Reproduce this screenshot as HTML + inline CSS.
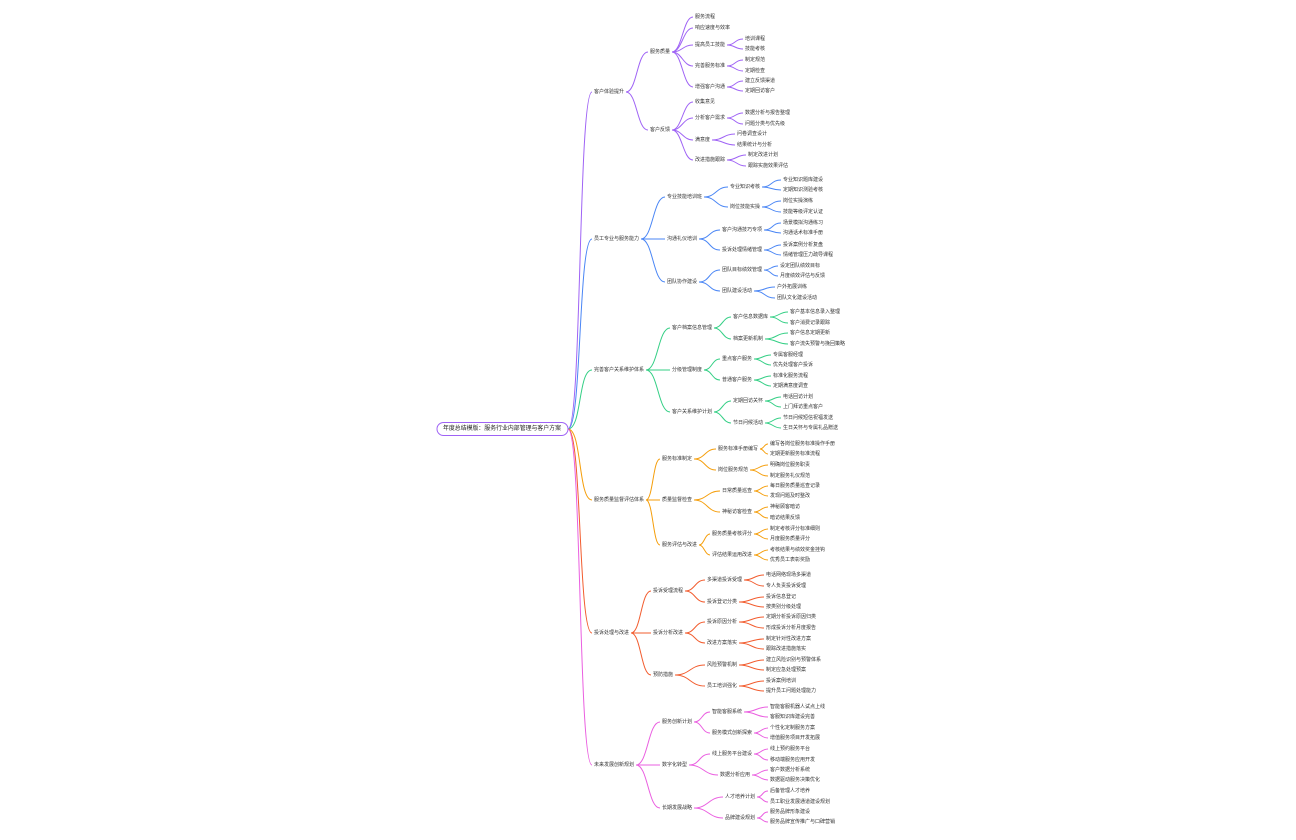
<!DOCTYPE html>
<html><head><meta charset="utf-8"><style>
html,body{margin:0;padding:0;background:#fff;width:1296px;height:840px;overflow:hidden}
svg{display:block}
text{font-family:"Liberation Sans","Noto Sans CJK SC",sans-serif;font-size:5px;fill:#333;dominant-baseline:central}
path{fill:none;stroke-width:1}
.p path{stroke:#9f63f5}.b path{stroke:#4a86f5}.g path{stroke:#34cf85}.o path{stroke:#f59e0b}.r path{stroke:#f25c2e}.m path{stroke:#ea5fe0}
</style></head><body>
<svg width="1296" height="840" viewBox="0 0 1296 840">
<!-- PURPLE -->
<g class="p">
<path d="M568 429 C582 429 578 92 592 92"/>
<path d="M626 92 C637 92 637 52 648 52"/><path d="M626 92 C637 92 637 130 648 130"/>
<path d="M672 52 C682 52 683 17 693 17"/><path d="M672 52 C682 52 683 28 693 28"/><path d="M672 52 C682 52 683 45 693 45"/><path d="M672 52 C682 52 683 66 693 66"/><path d="M672 52 C682 52 683 87 693 87"/>
<path d="M727 45 C735 45 735 39 743 39"/><path d="M727 45 C735 45 735 49 743 49"/>
<path d="M727 66 C735 66 735 60 743 60"/><path d="M727 66 C735 66 735 71 743 71"/>
<path d="M727 87 C735 87 735 81 743 81"/><path d="M727 87 C735 87 735 91 743 91"/>
<path d="M672 130 C682 130 683 102 693 102"/><path d="M672 130 C682 130 683 118 693 118"/><path d="M672 130 C682 130 683 140 693 140"/><path d="M672 130 C682 130 683 160 693 160"/>
<path d="M727 118 C735 118 735 113 743 113"/><path d="M727 118 C735 118 735 124 743 124"/>
<path d="M712 140 C723 140 724 134 735 134"/><path d="M712 140 C723 140 724 145 735 145"/>
<path d="M727 160 C736 160 737 155 746 155"/><path d="M727 160 C736 160 737 166 746 166"/>
</g>
<text x="594" y="92">客户体验提升</text>
<text x="650" y="52">服务质量</text><text x="650" y="130">客户反馈</text>
<text x="695" y="17">服务流程</text><text x="695" y="28">响应速度与效率</text><text x="695" y="45">提高员工技能</text><text x="695" y="66">完善服务标准</text><text x="695" y="87">增强客户沟通</text>
<text x="745" y="39">培训课程</text><text x="745" y="49">技能考核</text><text x="745" y="60">制定规范</text><text x="745" y="71">定期检查</text><text x="745" y="81">建立反馈渠道</text><text x="745" y="91">定期回访客户</text>
<text x="695" y="102">收集意见</text><text x="695" y="118">分析客户需求</text><text x="695" y="140">满意度</text><text x="695" y="160">改进措施跟踪</text>
<text x="745" y="113">数据分析与报告整理</text><text x="745" y="124">问题分类与优先级</text><text x="737" y="134">问卷调查设计</text><text x="737" y="145">结果统计与分析</text><text x="748" y="155">制定改进计划</text><text x="748" y="166">跟踪实施效果评估</text>

<!-- BLUE -->
<g class="b">
<path d="M568 429 C582 429 578 239 592 239"/>
<path d="M641 239 C653 239 653 197 665 197"/><path d="M641 239 L665 239"/><path d="M641 239 C653 239 653 282 665 282"/>
<path d="M704 197 C716 197 716 187 728 187"/><path d="M704 197 C716 197 716 207 728 207"/>
<path d="M699 239 C710 239 709 230 720 230"/><path d="M699 239 C710 239 709 250 720 250"/>
<path d="M699 282 C710 282 709 270 720 270"/><path d="M699 282 C710 282 709 291 720 291"/>
<path d="M762 187 C772 187 771 180 781 180"/><path d="M762 187 C772 187 771 190 781 190"/>
<path d="M762 207 C772 207 771 201 781 201"/><path d="M762 207 C772 207 771 212 781 212"/>
<path d="M764 230 C773 230 772 223 781 223"/><path d="M764 230 C773 230 772 233 781 233"/>
<path d="M764 250 C773 250 772 245 781 245"/><path d="M764 250 C773 250 772 255 781 255"/>
<path d="M764 270 C771 270 771 266 778 266"/><path d="M764 270 C771 270 771 276 778 276"/>
<path d="M754 291 C765 291 764 287 775 287"/><path d="M754 291 C765 291 764 298 775 298"/>
</g>
<text x="594" y="239">员工专业与服务能力</text>
<text x="667" y="197">专业技能培训班</text><text x="667" y="239">沟通礼仪培训</text><text x="667" y="282">团队协作建设</text>
<text x="730" y="187">专业知识考核</text><text x="730" y="207">岗位技能实操</text><text x="722" y="230">客户沟通技巧专项</text><text x="722" y="250">投诉处理情绪管理</text><text x="722" y="270">团队目标绩效管理</text><text x="722" y="291">团队建设活动</text>
<text x="783" y="180">专业知识题库建设</text><text x="783" y="190">定期知识测验考核</text><text x="783" y="201">岗位实操演练</text><text x="783" y="212">技能等级评定认证</text><text x="783" y="223">场景模拟沟通练习</text><text x="783" y="233">沟通话术标准手册</text><text x="783" y="245">投诉案例分析复盘</text><text x="783" y="255">情绪管理压力疏导课程</text><text x="780" y="266">设定团队绩效目标</text><text x="780" y="276">月度绩效评估与反馈</text><text x="777" y="287">户外拓展训练</text><text x="777" y="298">团队文化建设活动</text>

<!-- GREEN -->
<g class="g">
<path d="M568 429 C582 429 578 370 592 370"/>
<path d="M646 370 C658 370 658 328 670 328"/><path d="M646 370 L670 370"/><path d="M646 370 C658 370 658 412 670 412"/>
<path d="M714 328 C722 328 723 317 731 317"/><path d="M714 328 C722 328 723 339 731 339"/>
<path d="M704 370 C712 370 712 359 720 359"/><path d="M704 370 C712 370 712 380 720 380"/>
<path d="M714 412 C722 412 723 401 731 401"/><path d="M714 412 C722 412 723 423 731 423"/>
<path d="M770 317 C779 317 779 312 788 312"/><path d="M770 317 C779 317 779 323 788 323"/>
<path d="M765 339 C776 339 777 333 788 333"/><path d="M765 339 C776 339 777 344 788 344"/>
<path d="M754 359 C762 359 763 355 771 355"/><path d="M754 359 C762 359 763 365 771 365"/>
<path d="M754 380 C762 380 763 376 771 376"/><path d="M754 380 C762 380 763 386 771 386"/>
<path d="M765 401 C773 401 773 397 781 397"/><path d="M765 401 C773 401 773 407 781 407"/>
<path d="M765 423 C773 423 773 418 781 418"/><path d="M765 423 C773 423 773 428 781 428"/>
</g>
<text x="594" y="370">完善客户关系维护体系</text>
<text x="672" y="328">客户档案信息管理</text><text x="672" y="370">分级管理制度</text><text x="672" y="412">客户关系维护计划</text>
<text x="733" y="317">客户信息数据库</text><text x="733" y="339">档案更新机制</text><text x="722" y="359">重点客户服务</text><text x="722" y="380">普通客户服务</text><text x="733" y="401">定期回访关怀</text><text x="733" y="423">节日问候活动</text>
<text x="790" y="312">客户基本信息录入整理</text><text x="790" y="323">客户消费记录跟踪</text><text x="790" y="333">客户信息定期更新</text><text x="790" y="344">客户流失预警与挽回策略</text><text x="773" y="355">专属客服经理</text><text x="773" y="365">优先处理客户投诉</text><text x="773" y="376">标准化服务流程</text><text x="773" y="386">定期满意度调查</text><text x="783" y="397">电话回访计划</text><text x="783" y="407">上门拜访重点客户</text><text x="783" y="418">节日问候短信祝福发送</text><text x="783" y="428">生日关怀与专属礼品赠送</text>

<!-- ORANGE -->
<g class="o">
<path d="M568 429 C582 429 578 500 592 500"/>
<path d="M646 500 C653 500 653 459 660 459"/><path d="M646 500 L660 500"/><path d="M646 500 C653 500 653 545 660 545"/>
<path d="M694 459 C705 459 705 449 716 449"/><path d="M694 459 C705 459 705 470 716 470"/>
<path d="M694 500 C707 500 707 491 720 491"/><path d="M694 500 C707 500 707 512 720 512"/>
<path d="M699 545 C704 545 705 534 710 534"/><path d="M699 545 C704 545 705 555 710 555"/>
<path d="M760 449 C764 449 764 444 768 444"/><path d="M760 449 C764 449 764 454 768 454"/>
<path d="M750 470 C759 470 759 465 768 465"/><path d="M750 470 C759 470 759 476 768 476"/>
<path d="M754 491 C761 491 761 486 768 486"/><path d="M754 491 C761 491 761 496 768 496"/>
<path d="M754 512 C761 512 761 507 768 507"/><path d="M754 512 C761 512 761 518 768 518"/>
<path d="M754 534 C761 534 761 529 768 529"/><path d="M754 534 C761 534 761 539 768 539"/>
<path d="M754 555 C761 555 761 550 768 550"/><path d="M754 555 C761 555 761 560 768 560"/>
</g>
<text x="594" y="500">服务质量监督评估体系</text>
<text x="662" y="459">服务标准制定</text><text x="662" y="500">质量监督检查</text><text x="662" y="545">服务评估与改进</text>
<text x="718" y="449">服务标准手册编写</text><text x="718" y="470">岗位服务规范</text><text x="722" y="491">日常质量巡查</text><text x="722" y="512">神秘访客检查</text><text x="712" y="534">服务质量考核评分</text><text x="712" y="555">评估结果运用改进</text>
<text x="770" y="444">编写各岗位服务标准操作手册</text><text x="770" y="454">定期更新服务标准流程</text><text x="770" y="465">明确岗位服务职责</text><text x="770" y="476">制定服务礼仪规范</text><text x="770" y="486">每日服务质量巡查记录</text><text x="770" y="496">发现问题及时整改</text><text x="770" y="507">神秘顾客暗访</text><text x="770" y="518">暗访结果反馈</text><text x="770" y="529">制定考核评分标准细则</text><text x="770" y="539">月度服务质量评分</text><text x="770" y="550">考核结果与绩效奖金挂钩</text><text x="770" y="560">优秀员工表彰奖励</text>

<!-- RED -->
<g class="r">
<path d="M568 429 C582 429 578 633 592 633"/>
<path d="M631 633 C641 633 641 591 651 591"/><path d="M631 633 L651 633"/><path d="M631 633 C641 633 641 675 651 675"/>
<path d="M685 591 C695 591 695 580 705 580"/><path d="M685 591 C695 591 695 602 705 602"/>
<path d="M685 633 C695 633 695 622 705 622"/><path d="M685 633 C695 633 695 643 705 643"/>
<path d="M675 675 C690 675 690 665 705 665"/><path d="M675 675 C690 675 690 686 705 686"/>
<path d="M744 580 C754 580 754 575 764 575"/><path d="M744 580 C754 580 754 586 764 586"/>
<path d="M739 602 C751 602 752 597 764 597"/><path d="M739 602 C751 602 752 607 764 607"/>
<path d="M739 622 C751 622 752 617 764 617"/><path d="M739 622 C751 622 752 628 764 628"/>
<path d="M739 643 C751 643 752 639 764 639"/><path d="M739 643 C751 643 752 649 764 649"/>
<path d="M739 665 C751 665 752 660 764 660"/><path d="M739 665 C751 665 752 670 764 670"/>
<path d="M739 686 C751 686 752 681 764 681"/><path d="M739 686 C751 686 752 691 764 691"/>
</g>
<text x="594" y="633">投诉处理与改进</text>
<text x="653" y="591">投诉受理流程</text><text x="653" y="633">投诉分析改进</text><text x="653" y="675">预防措施</text>
<text x="707" y="580">多渠道投诉受理</text><text x="707" y="602">投诉登记分类</text><text x="707" y="622">投诉原因分析</text><text x="707" y="643">改进方案落实</text><text x="707" y="665">风险预警机制</text><text x="707" y="686">员工培训强化</text>
<text x="766" y="575">电话网络现场多渠道</text><text x="766" y="586">专人负责投诉受理</text><text x="766" y="597">投诉信息登记</text><text x="766" y="607">按类别分级处理</text><text x="766" y="617">定期分析投诉原因归类</text><text x="766" y="628">形成投诉分析月度报告</text><text x="766" y="639">制定针对性改进方案</text><text x="766" y="649">跟踪改进措施落实</text><text x="766" y="660">建立风险识别与预警体系</text><text x="766" y="670">制定应急处理预案</text><text x="766" y="681">投诉案例培训</text><text x="766" y="691">提升员工问题处理能力</text>

<!-- MAGENTA -->
<g class="m">
<path d="M568 429 C582 429 578 765 592 765"/>
<path d="M636 765 C648 765 648 722 660 722"/><path d="M636 765 L660 765"/><path d="M636 765 C648 765 648 808 660 808"/>
<path d="M694 722 C702 722 702 712 710 712"/><path d="M694 722 C702 722 702 733 710 733"/>
<path d="M689 765 C700 765 699 754 710 754"/><path d="M689 765 C703 765 704 775 718 775"/>
<path d="M694 808 C708 808 709 797 723 797"/><path d="M694 808 C708 808 709 818 723 818"/>
<path d="M744 712 C756 712 756 707 768 707"/><path d="M744 712 C756 712 756 717 768 717"/>
<path d="M754 733 C761 733 761 728 768 728"/><path d="M754 733 C761 733 761 738 768 738"/>
<path d="M754 754 C761 754 761 749 768 749"/><path d="M754 754 C761 754 761 760 768 760"/>
<path d="M752 775 C760 775 760 770 768 770"/><path d="M752 775 C760 775 760 780 768 780"/>
<path d="M757 797 C763 797 762 791 768 791"/><path d="M757 797 C763 797 762 802 768 802"/>
<path d="M757 818 C763 818 762 812 768 812"/><path d="M757 818 C763 818 762 822 768 822"/>
</g>
<text x="594" y="765">未来发展创新规划</text>
<text x="662" y="722">服务创新计划</text><text x="662" y="765">数字化转型</text><text x="662" y="808">长期发展战略</text>
<text x="712" y="712">智能客服系统</text><text x="712" y="733">服务模式创新探索</text><text x="712" y="754">线上服务平台建设</text><text x="720" y="775">数据分析应用</text><text x="725" y="797">人才培养计划</text><text x="725" y="818">品牌建设规划</text>
<text x="770" y="707">智能客服机器人试点上线</text><text x="770" y="717">客服知识库建设完善</text><text x="770" y="728">个性化定制服务方案</text><text x="770" y="738">增值服务项目开发拓展</text><text x="770" y="749">线上预约服务平台</text><text x="770" y="760">移动端服务应用开发</text><text x="770" y="770">客户数据分析系统</text><text x="770" y="780">数据驱动服务决策优化</text><text x="770" y="791">后备管理人才培养</text><text x="770" y="802">员工职业发展通道建设规划</text><text x="770" y="812">服务品牌形象建设</text><text x="770" y="822">服务品牌宣传推广与口碑营销</text>

<!-- ROOT -->
<rect x="437" y="422.5" width="131" height="13" rx="6.5" fill="#fff" stroke="#9f63f5" stroke-width="1"/>
<text x="443" y="429" style="font-size:6px;fill:#222" textLength="118" lengthAdjust="spacingAndGlyphs">年度总结模版：服务行业内部管理与客户方案</text>
</svg>
</body></html>
